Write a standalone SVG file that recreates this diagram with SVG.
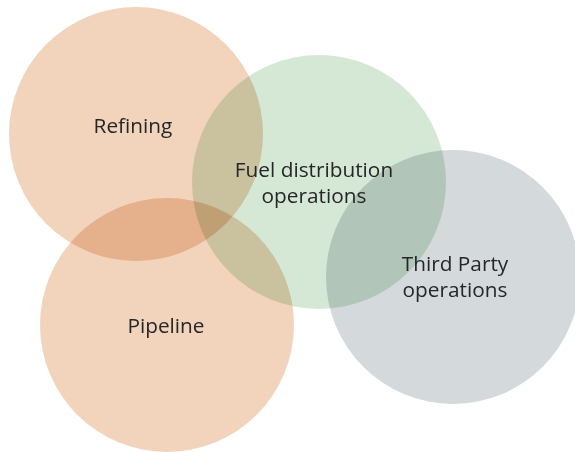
<svg xmlns="http://www.w3.org/2000/svg" width="575" height="452" viewBox="0 0 575 452">
<style>
.c{mix-blend-mode:multiply}
.o{fill:#f2d4bd}
.g{fill:#d5e8d5}
.y{fill:#d4d9dc}
text{font-family:"Open Sans","Noto Sans",sans-serif;font-size:20.8px;fill:#262626;text-anchor:middle}
</style>
<rect width="575" height="452" fill="#ffffff"/>
<g id="refining"><circle class="c o" cx="136" cy="134" r="127"/></g>
<g id="fuel"><circle class="c g" cx="319" cy="182" r="127"/></g>
<g id="third"><circle class="c y" cx="453" cy="277" r="127"/></g>
<g id="pipeline"><circle class="c o" cx="167" cy="325" r="127"/></g>
<g id="labels">
<text x="133" y="133">Refining</text>
<text x="314" y="177">Fuel distribution</text>
<text x="314" y="203">operations</text>
<text x="455" y="271">Third Party</text>
<text x="455" y="297">operations</text>
<text x="166" y="333">Pipeline</text>
</g>
<g id="connectors"></g>
</svg>
